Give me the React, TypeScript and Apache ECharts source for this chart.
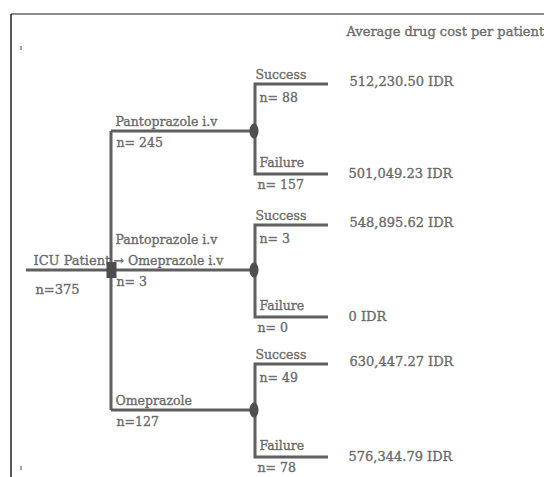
import React, { useEffect, useRef } from "react";
import * as echarts from "echarts";

// ---- data ----
const rootLabel = "ICU Patient";
const rootN = 375;
const strategies = [["Pantoprazole i.v"], ["Pantoprazole i.v", "→ Omeprazole i.v"], ["Omeprazole"]];
const strategyN = [245, 3, 127];
const outcomes = ["Success", "Failure"];
const outcomeN = [
  [88, 157],
  [3, 0],
  [49, 78],
];
const costValues = [
  [512230.5, 501049.23],
  [548895.62, 0],
  [630447.27, 576344.79],
];
const costHeader = "Average drug cost per patient";
const rootNFormat = (n: number) => `n=${n}`;
const strategyNFormat = [(n: number) => `n= ${n}`, (n: number) => `n= ${n}`, (n: number) => `n=${n}`];

// ---- layout (pixel space of the canvas) ----
const W = 544;
const H = 477;
const xRootStart = 26;
const xDecision = 111;
const xChance = 255;
const xLeafEnd = 328;
const xCost = 347;
const yRoot = 270;
const yStrategy = [131, 270, 410];
const yOutcome = [
  [84, 174],
  [225, 317],
  [364, 457],
];

const LINE = "#5f5f5f";
const TEXT = "#555555";
const FONT = "'DejaVu Serif', serif";

function fmtCost(v: number) {
  if (v === 0) return "0 IDR";
  return v.toLocaleString("en-US", { minimumFractionDigits: 2, maximumFractionDigits: 2 }) + " IDR";
}

function textItem(x: number, y: number, text: string, size = 13) {
  return {
    value: [x, y],
    label: {
      show: true,
      formatter: text,
      position: "right",
      distance: 0,
      color: TEXT,
      fontFamily: FONT,
      fontSize: size,
      align: "left",
      verticalAlign: "middle",
      textBorderColor: TEXT,
      textBorderWidth: 0.45,
    },
  };
}

export default function App() {
  const ref = useRef<HTMLDivElement>(null);
  useEffect(() => {
    if (!ref.current) return;
    const chart = echarts.init(ref.current, undefined, { renderer: "svg" });

    const edges: any[] = [];
    edges.push({ coords: [[xRootStart, yRoot], [xDecision, yRoot]] });
    edges.push({ coords: [[xDecision, yStrategy[0]], [xDecision, yStrategy[yStrategy.length - 1]]] });
    yStrategy.forEach((y, i) => {
      edges.push({ coords: [[xDecision, y], [xChance, y]] });
      const [ys, yf] = yOutcome[i];
      edges.push({ coords: [[xLeafEnd, ys], [xChance, ys], [xChance, yf], [xLeafEnd, yf]] });
    });

    const borders: any[] = [
      { coords: [[11, 14], [W, 14]], lineStyle: { color: "#666", width: 1.5 } },
      { coords: [[11, 14], [11, H]], lineStyle: { color: "#222", width: 1.5 } },
      { coords: [[21, 46], [21, 50]], lineStyle: { color: "#666", width: 1.2 } },
      { coords: [[21, 466], [21, 470]], lineStyle: { color: "#666", width: 1.2 } },
    ];

    const texts: any[] = [];
    texts.push(textItem(346, 31, costHeader, 13));
    texts.push(textItem(33, 260, rootLabel, 13));
    texts.push(textItem(35, 289, rootNFormat(rootN), 13));
    yStrategy.forEach((y, i) => {
      const lines = strategies[i];
      lines.forEach((ln, j) => {
        const off = (lines.length - 1 - j) * 21;
        texts.push(textItem(ln.startsWith("→") ? 113 : 115, y - 10 - off, ln, 12.5));
      });
      texts.push(textItem(116, y + 11, strategyNFormat[i](strategyN[i]), 12.5));
      const [ys, yf] = yOutcome[i];
      texts.push(textItem(xChance, ys - 10, outcomes[0], 12.5));
      texts.push(textItem(xChance + 4, ys + 13, `n= ${outcomeN[i][0]}`, 12.5));
      texts.push(textItem(xChance + 4, yf - 12, outcomes[1], 12.5));
      texts.push(textItem(xChance + 2, yf + 10, `n= ${outcomeN[i][1]}`, 12.5));
      texts.push(textItem(xCost + 2, ys - 3, fmtCost(costValues[i][0]), 13));
      texts.push(textItem(xCost + 1, yf - 1, fmtCost(costValues[i][1]), 13));
    });

    chart.setOption({
      animation: false,
      grid: { left: 0, right: 0, top: 0, bottom: 0 },
      xAxis: { type: "value", min: 0, max: W, show: false },
      yAxis: { type: "value", min: 0, max: H, inverse: true, show: false },
      series: [
        {
          type: "lines",
          coordinateSystem: "cartesian2d",
          polyline: true,
          silent: true,
          lineStyle: { color: LINE, width: 3, opacity: 1 },
          data: edges,
          z: 2,
        },
        {
          type: "lines",
          coordinateSystem: "cartesian2d",
          polyline: true,
          silent: true,
          lineStyle: { opacity: 1 },
          data: borders,
          z: 1,
        },
        {
          type: "scatter",
          silent: true,
          symbol: "rect",
          symbolSize: [10, 16],
          itemStyle: { color: "#4d4d4d", opacity: 1 },
          data: [[xDecision + 0.5, yRoot]],
          z: 3,
        },
        {
          type: "scatter",
          silent: true,
          symbol: "circle",
          symbolSize: [9, 15],
          itemStyle: { color: "#505050", opacity: 1 },
          data: yStrategy.map((y) => [xChance - 1, y]),
          z: 3,
        },
        {
          type: "scatter",
          silent: true,
          symbol: "circle",
          symbolSize: 1,
          itemStyle: { color: "rgba(0,0,0,0)" },
          data: texts,
          z: 4,
        },
      ],
    });
    return () => chart.dispose();
  }, []);
  return (
    <div
      ref={ref}
      style={{ position: "fixed", left: 0, top: 0, width: W, height: H, background: "#fff" }}
    />
  );
}
